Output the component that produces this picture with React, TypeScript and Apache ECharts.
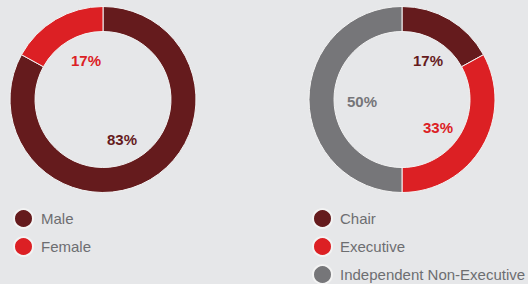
import React, { useEffect, useRef } from "react";
import * as echarts from "echarts";

const genderNames = ["Male", "Female"];
const genderValues = [83, 17];
const roleNames = ["Chair", "Executive", "Independent Non-Executive"];
const roleValues = [17, 33, 50];

const DARK = "#651b1d";
const RED = "#dc2024";
const GRAY = "#767679";
const BG = "#e6e7e9";
const FONT = "'Liberation Sans', Arial, Helvetica, sans-serif";

export default function App() {
  const ref = useRef<HTMLDivElement>(null);
  useEffect(() => {
    if (!ref.current) return;
    const chart = echarts.init(ref.current, null, { renderer: "svg" });
    const genderColors = [DARK, RED];
    const roleColors = [DARK, RED, GRAY];
    const pct = (v: number) => `${v}%`;
    const labelPos = {
      gender: [
        [122, 139],
        [86, 60],
      ],
      role: [
        [428, 60],
        [438, 127],
        [362, 101],
      ],
    };
    const labelText = (x: number, y: number, text: string, color: string) => ({
      type: "text",
      x,
      y,
      style: {
        text,
        fill: color,
        font: `bold 15px ${FONT}`,
        textAlign: "center",
        textVerticalAlign: "middle",
      },
    });
    const graphics = [
      ...genderValues.map((v, i) =>
        labelText(labelPos.gender[i][0], labelPos.gender[i][1], pct(v), genderColors[i])
      ),
      ...roleValues.map((v, i) =>
        labelText(labelPos.role[i][0], labelPos.role[i][1], pct(v), roleColors[i])
      ),
    ];
    const legendCommon = {
      orient: "vertical",
      icon: "circle",
      itemWidth: 19,
      itemHeight: 19,
      itemGap: 7,
      padding: 0,
      height: 90,
      selectedMode: false,
      textStyle: {
        color: "#6d6e71",
        fontSize: 15,
        lineHeight: 19,
        fontFamily: FONT,
        padding: [0, 0, 0, 3],
      },
    };
    chart.setOption({
      animation: false,
      backgroundColor: BG,
      legend: [
        { ...legendCommon, left: 13, top: 208, data: genderNames },
        { ...legendCommon, left: 312, top: 208, data: roleNames },
      ],
      graphic: graphics,
      series: [
        {
          type: "pie",
          center: [103, 99.5],
          radius: [68, 93],
          startAngle: 90,
          clockwise: true,
          label: { show: false },
          labelLine: { show: false },
          emphasis: { disabled: true },
          itemStyle: { borderColor: "#f3f3f3", borderWidth: 1 },
          data: genderNames.map((n, i) => ({
            name: n,
            value: genderValues[i],
            itemStyle: { color: genderColors[i] },
          })),
        },
        {
          type: "pie",
          center: [402, 99.5],
          radius: [68, 93],
          startAngle: 90,
          clockwise: true,
          label: { show: false },
          labelLine: { show: false },
          emphasis: { disabled: true },
          itemStyle: { borderColor: "#f3f3f3", borderWidth: 1 },
          data: roleNames.map((n, i) => ({
            name: n,
            value: roleValues[i],
            itemStyle: { color: roleColors[i] },
          })),
        },
      ],
    });
    return () => chart.dispose();
  }, []);
  return (
    <div
      ref={ref}
      style={{ position: "absolute", left: 0, top: 0, width: 528, height: 284 }}
    />
  );
}
